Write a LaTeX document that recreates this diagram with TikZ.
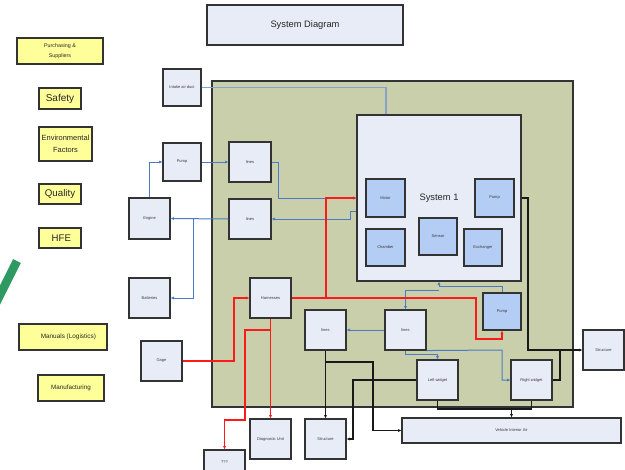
\documentclass[tikz,border=0pt]{standalone}
\usepackage{fontspec}
\setmainfont{Liberation Sans}
\usetikzlibrary{arrows.meta}
\definecolor{areaBg}{HTML}{C8CFAA}
\definecolor{boxFill}{HTML}{E7ECF6}
\definecolor{innerFill}{HTML}{B4CDF4}
\definecolor{yelFill}{HTML}{FFFF99}
\definecolor{boxLine}{HTML}{333333}
\definecolor{txtGray}{HTML}{3A3A3A}
\definecolor{lnBlue}{HTML}{4A7BC6}
\definecolor{lnIntake}{HTML}{86A3CF}
\definecolor{lnRed}{HTML}{FF1A1A}
\definecolor{slashGreen}{HTML}{2E9A62}
\tikzset{
  box/.style={draw=boxLine, fill=boxFill, line width=0.8pt, inner sep=0pt,
    minimum width=30.75pt, minimum height=30pt, align=center, text=txtGray,
    font=\fontsize{3}{3.6}\selectfont},
  ibox/.style={box, fill=innerFill, minimum width=29.25pt, minimum height=28.5pt},
  ybox/.style={draw=boxLine, fill=yelFill, line width=0.8pt, inner sep=0pt, align=center, text=black!85},
  area/.style={draw=boxLine, fill=areaBg, line width=0.8pt, inner sep=0pt},
  tip/.style={-{Latex[length=2.6pt,width=2.4pt]}},
  bl/.style={draw=lnBlue, line width=0.75pt},
  rd/.style={draw=lnRed, line width=0.9pt},
  bk/.style={draw=black!90, line width=0.8pt},
}
\begin{document}
\begin{tikzpicture}[x=0.75pt,y=-0.75pt]
\useasboundingbox (0,0) rectangle (625,469);

% green slash
\draw[slashGreen, line width=6.5pt] (17,261) -- (-5,305);

% yellow boxes
\node[ybox, minimum width=64.5pt, minimum height=19.5pt, font=\fontsize{4}{8}\selectfont] (purch) at (60,51) {Purchasing \&\\Suppliers};
\node[ybox, minimum width=31.5pt, minimum height=15.75pt, font=\fontsize{7.5}{8}\selectfont] (safety) at (60,98.5) {Safety};
\node[ybox, minimum width=39.75pt, minimum height=25.5pt, font=\fontsize{5.6}{9}\selectfont] (env) at (65.5,144) {Environmental\\Factors};
\node[ybox, minimum width=31.5pt, minimum height=15pt, font=\fontsize{7.3}{8}\selectfont] (quality) at (60,194) {Quality};
\node[ybox, minimum width=31.5pt, minimum height=15pt, font=\fontsize{7.2}{8}\selectfont] (hfe) at (60,238) {\hspace*{2pt}HFE};
\node[ybox, minimum width=66pt, minimum height=19.5pt, font=\fontsize{4.8}{6}\selectfont] (manuals) at (63,337) {\hspace*{8pt}Manuals (Logistics)};
\node[ybox, minimum width=49.5pt, minimum height=19.5pt, font=\fontsize{4.7}{6}\selectfont] (manuf) at (71,388) {Manufacturing};

% title
\node[box, minimum width=147pt, minimum height=30pt, font=\fontsize{7}{8}\selectfont, text=black!85] (title) at (305,25) {System Diagram};

% big area
\node[area, minimum width=270.75pt, minimum height=244.5pt] (area) at (392.5,244) {};

% outer boxes
\node[box, minimum width=28.5pt, minimum height=27.75pt] (intake) at (182,87.5) {Intake air duct};
\node[box, minimum width=28.5pt, minimum height=28.5pt] (pumpL) at (182,162) {Pump};
\node[box, minimum width=31.5pt] (lines1) at (250,162) {lines};
\node[box, minimum width=31.5pt] (lines2) at (250,219) {lines};
\node[box, minimum height=30.75pt] (eng) at (149.5,218.5) {Engine};
\node[box] (bat) at (149.5,298) {Batteries};
\node[box] (gage) at (161.5,361) {Gage};
\node[box] (harn) at (270.5,298) {Harnesses};
\node[box] (lines3) at (325.5,330) {lines};
\node[box] (lines4) at (405.5,330) {lines};
\node[box] (leftw) at (437.5,380) {Left widget};
\node[box] (rightw) at (531.5,380) {Right widget};
\node[ibox, minimum width=28.5pt, minimum height=27.75pt] (pumpR) at (502,311.5) {Pump};
\node[box] (structR) at (603.5,350) {Structure};
\node[box, minimum width=164.25pt, minimum height=18.75pt] (via) at (511.5,430.5) {Vehicle Interior Air};
\node[box] (diag) at (270.5,439) {Diagnostic Unit};
\node[box] (structB) at (325.5,439) {Structure};
\node[box, minimum height=30.75pt, text depth=12pt] (qqq) at (224.5,470.5) {???};

% system 1
\node[box, minimum width=123pt, minimum height=124.5pt, font=\fontsize{7}{8}\selectfont, text=black!85] (sys1) at (439,198) {System 1};
\node[ibox] (motor) at (385.5,198) {Motor};
\node[ibox] (pump1) at (494.5,198) {Pump};
\node[ibox, minimum height=27.75pt] (chamber) at (385.5,247.5) {Chamber};
\node[ibox, minimum width=28.5pt, minimum height=27.75pt] (sensor) at (438,236.5) {Sensor};
\node[ibox, minimum width=28.5pt, minimum height=27.75pt] (exch) at (483,247.5) {Exchanger};

% intake line
\draw[lnIntake, line width=1.3pt] (intake.east) -| ([xshift=-39.75pt]sys1.north);

% blue connectors
\draw[bl, tip] (eng.north) |- (pumpL.west);
\draw[bl, tip] (pumpL.east) -- (lines1.west);
\draw[bl, tip] (lines1.east) -- (278,162) |- (sys1.west);
\draw[bl, tip] ([yshift=-9.75pt]sys1.west) -- (350,211) -- (350,219) -- (lines2.east);
\draw[bl, tip] (lines2.west) -- (eng.east);
\draw[bl, tip] (193,219) |- (bat.east);
\draw[bl, tip] (pumpR.north) |- (439,286) -- (sys1.south);
\draw[bl, tip] (439,290) -| (lines4.north);
\draw[bl, tip] (lines4.west) -- (lines3.east);
\draw[bl, tip] (lines4.south) -- (405.5,354) -| (leftw.north);
\draw[bl, tip] (lines4.south east) -- (502,350) |- (rightw.west);

% red connectors
\draw[rd, tip] (gage.east) -- (234,361) |- (harn.west);
\draw[rd, tip] (harn.east) -| (476,339) -| (pumpR.south);
\draw[rd, tip] (326,298) |- (sys1.west);
\draw[rd, tip] (harn.south) -- (diag.north);
\draw[rd, tip] (270.5,330) -- (245,330) -- (245,420) -- (224.5,420) -- (qqq.north);

% black connectors
\draw[bk, tip] (lines3.south) -- (structB.north);
\draw[bk, tip] (325.5,362) -- (373,362) |- (via.west);
\draw[bk, tip] (leftw.west) -- (353,380) |- (structB.east);
\draw[bk] (leftw.south) |- (531.5,409) -- (rightw.south);
\draw[bk, tip] (511.5,409) -- (via.north);
\draw[bk, tip, line width=1.1pt] (sys1.east) -- (528,198) |- (structR.west);
\draw[bk] (rightw.east) -| (560,350);
\end{tikzpicture}
\end{document}
